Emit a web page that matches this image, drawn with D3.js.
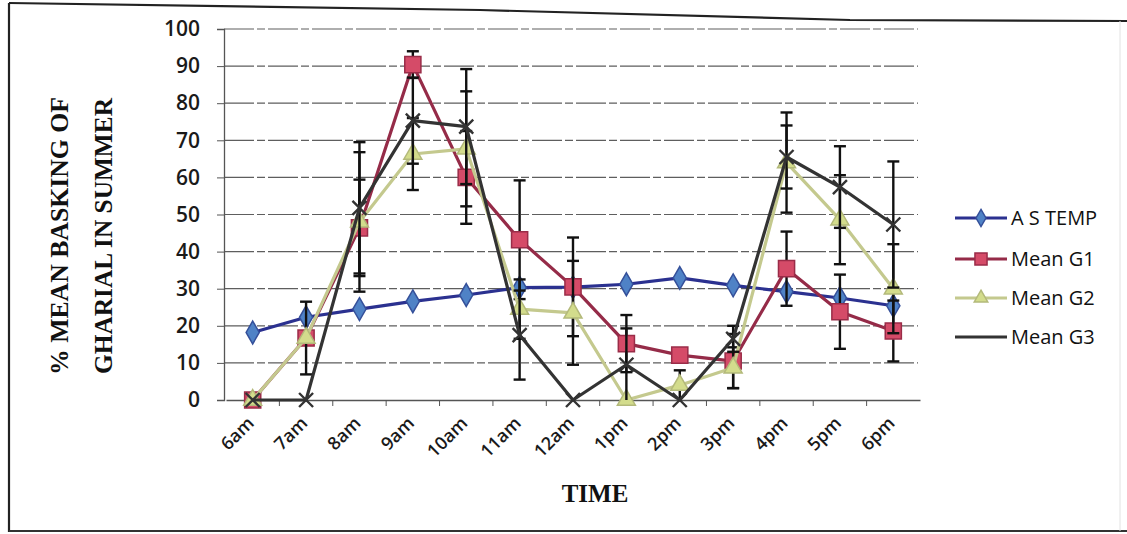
<!DOCTYPE html>
<html><head><meta charset="utf-8">
<script src="https://cdn.jsdelivr.net/npm/d3@7"></script>
<style>body{margin:0;background:#fff}svg{display:block}</style>
</head><body><svg id="c" width="1127" height="534"></svg>
<script>
const categories = ["6am","7am","8am","9am","10am","11am","12am","1pm","2pm","3pm","4pm","5pm","6pm"];
const yTicks = [0,10,20,30,40,50,60,70,80,90,100];
const asTemp = [18.2,22.3,24.5,26.6,28.3,30.3,30.4,31.2,32.9,30.9,29.2,27.5,25.4];
const meanG1 = [0,16.7,46.4,90.4,60,43.2,30.5,15.2,12.1,10.5,35.4,23.8,18.6];
const errG1  = [0,0,13,3.6,12.5,16,13.3,7.7,0,7.3,10,10,8.2];
const meanG2 = [0,16.7,48,66.3,67.7,24.5,23.5,0,4,8.7,64,48.6,30];
const errG2  = [0,9.8,18.8,9.7,15.5,8,14,0,4,5.5,13.5,12,12];
const meanG3 = [0,0,51.8,75.3,73.7,17.5,0,9.5,0,16.5,65.5,57.4,47.3];
const errG3  = [0,0,17.7,11.6,15.5,12,0,9.8,0,3.5,8.5,11,17];
const seriesNames = ["A S TEMP","Mean G1","Mean G2","Mean G3"];

const svg = d3.select("#c");
// page border (scanned frame)
svg.append("path").attr("d","M9,3 L480,10 L850,20 L1127,21").attr("fill","none").attr("stroke","#222").attr("stroke-width",2.2);
svg.append("line").attr("x1",9).attr("x2",9).attr("y1",3).attr("y2",532).attr("stroke","#222").attr("stroke-width",2.2);
svg.append("line").attr("x1",9).attr("x2",1127).attr("y1",531).attr("y2",531).attr("stroke","#333").attr("stroke-width",2.2);
svg.append("line").attr("x1",1120).attr("x2",1120).attr("y1",21).attr("y2",531).attr("stroke","#e2e2e2").attr("stroke-width",1);

const x = d3.scalePoint().domain(categories).range([226,920]).padding(0.5);
const y = d3.scaleLinear().domain([0,100]).range([400,29]);

// gridlines
svg.append("g").selectAll("line").data(yTicks.filter(d=>d>0)).join("line")
  .attr("x1",224).attr("x2",918).attr("y1",d=>y(d)).attr("y2",d=>y(d))
  .attr("stroke","#5e5e5e").attr("stroke-width",1.2).attr("stroke-dasharray","30,3,8,3");

// y axis
const ya = svg.append("g").attr("transform","translate(224,0)").call(d3.axisLeft(y).tickValues(yTicks).tickSize(7).tickPadding(17));
ya.select(".domain").attr("stroke","#555").attr("stroke-width",1.3);
ya.selectAll(".tick line").attr("stroke","#555");
ya.selectAll("text").attr("font-family","'Open Sans',sans-serif").attr("font-size",21).attr("font-weight",600).attr("fill","#1a1a1a");

// x axis
const step = x.step();
const xa = svg.append("g").attr("transform",`translate(0,${y(0)})`).call(d3.axisBottom(x).tickSize(0).tickFormat(""));
xa.select(".domain").attr("stroke","#555").attr("stroke-width",1.3);
svg.append("g").selectAll("line").data(categories.slice(1)).join("line")
  .attr("x1",d=>x(d)-step/2).attr("x2",d=>x(d)-step/2).attr("y1",y(0)).attr("y2",y(0)+6).attr("stroke","#555");
svg.append("g").selectAll("text").data(categories).join("text")
  .attr("transform",d=>`translate(${x(d)-2},${y(0)+20}) rotate(-45)`)
  .attr("text-anchor","end").attr("dy","0.35em")
  .attr("font-family","'Open Sans',sans-serif").attr("font-size",18).attr("font-weight",600).attr("fill","#1a1a1a")
  .text(d=>d);

// titles
svg.append("text").attr("x",595).attr("y",502).attr("text-anchor","middle")
  .attr("font-family","'Liberation Serif',serif").attr("font-weight","bold").attr("font-size",25).attr("fill","#111").text("TIME");
const yt = svg.append("text").attr("transform","translate(0,236) rotate(-90)").attr("text-anchor","middle")
  .attr("font-family","'Liberation Serif',serif").attr("font-weight","bold").attr("font-size",25).attr("fill","#111");
yt.append("tspan").attr("x",0).attr("y",68).attr("textLength",278).attr("lengthAdjust","spacingAndGlyphs").text("% MEAN BASKING OF");
yt.append("tspan").attr("x",0).attr("y",112).attr("textLength",276).attr("lengthAdjust","spacingAndGlyphs").text("GHARIAL IN SUMMER");

const lineGen = d3.line().x((d,i)=>x(categories[i])).y(d=>y(d));

function errorBars(vals, errs){
  const g = svg.append("g");
  vals.forEach((v,i)=>{
    const e = errs[i]; if(!e) return;
    const cx = x(categories[i]);
    const hi = y(Math.min(100,v+e)), lo = y(Math.max(0,v-e));
    g.append("line").attr("x1",cx).attr("x2",cx).attr("y1",hi).attr("y2",lo).attr("stroke","#111").attr("stroke-width",2.4);
    g.append("line").attr("x1",cx-6).attr("x2",cx+6).attr("y1",hi).attr("y2",hi).attr("stroke","#111").attr("stroke-width",2.4);
    if (v-e>0) g.append("line").attr("x1",cx-6).attr("x2",cx+6).attr("y1",lo).attr("y2",lo).attr("stroke","#111").attr("stroke-width",2.4);
  });
}

const styles = [
  {line:"#2b3190", w:3.2, marker:"diamond", fill:"#4f82c6", stroke:"#35509a", size:150},
  {line:"#952b48", w:3.2, marker:"square", fill:"#d54b68", stroke:"#9a2c48", size:260},
  {line:"#c4c98e", w:3.2, marker:"triangle", fill:"#d3dc8c", stroke:"#b3b97a", size:140},
  {line:"#333333", w:3.2, marker:"x", fill:"none", stroke:"#333", size:0}
];
const data = [asTemp, meanG1, meanG2, meanG3];
const errs = [null, errG1, errG2, errG3];

function drawMarker(g, st, cx, cy, scale){
  const k = scale||1;
  if (st.marker==="x"){
    const s=7*k;
    g.append("path").attr("d",`M${cx-s},${cy-s}L${cx+s},${cy+s}M${cx-s},${cy+s}L${cx+s},${cy-s}`)
      .attr("stroke",st.stroke).attr("stroke-width",2.4).attr("fill","none");
  } else {
    const type = st.marker==="diamond"?d3.symbolDiamond:st.marker==="square"?d3.symbolSquare:d3.symbolTriangle;
    g.append("path").attr("transform",`translate(${cx},${cy})`).attr("d",d3.symbol().type(type).size(st.size*k*k)())
      .attr("fill",st.fill).attr("stroke",st.stroke).attr("stroke-width",1.5);
  }
}

data.forEach((vals,k)=>{
  const st = styles[k];
  if (errs[k]) errorBars(vals, errs[k]);
  svg.append("path").datum(vals).attr("d",lineGen).attr("fill","none").attr("stroke",st.line).attr("stroke-width",st.w).attr("stroke-linejoin","round");
  const g = svg.append("g");
  vals.forEach((v,i)=>drawMarker(g, st, x(categories[i]), y(v)));
});

// legend
const legY = [218,259,298,337];
seriesNames.forEach((n,k)=>{
  const st = styles[k];
  const g = svg.append("g");
  g.append("line").attr("x1",955).attr("x2",1007).attr("y1",legY[k]).attr("y2",legY[k]).attr("stroke",st.line).attr("stroke-width",3.2);
  if (st.marker!=="x") drawMarker(g, st, 981, legY[k], 0.75);
  g.append("text").attr("x",1011).attr("y",legY[k]).attr("dy","0.36em")
    .attr("font-family","'Open Sans',sans-serif").attr("font-size",20).attr("fill","#111").text(n);
});
</script></body></html>
